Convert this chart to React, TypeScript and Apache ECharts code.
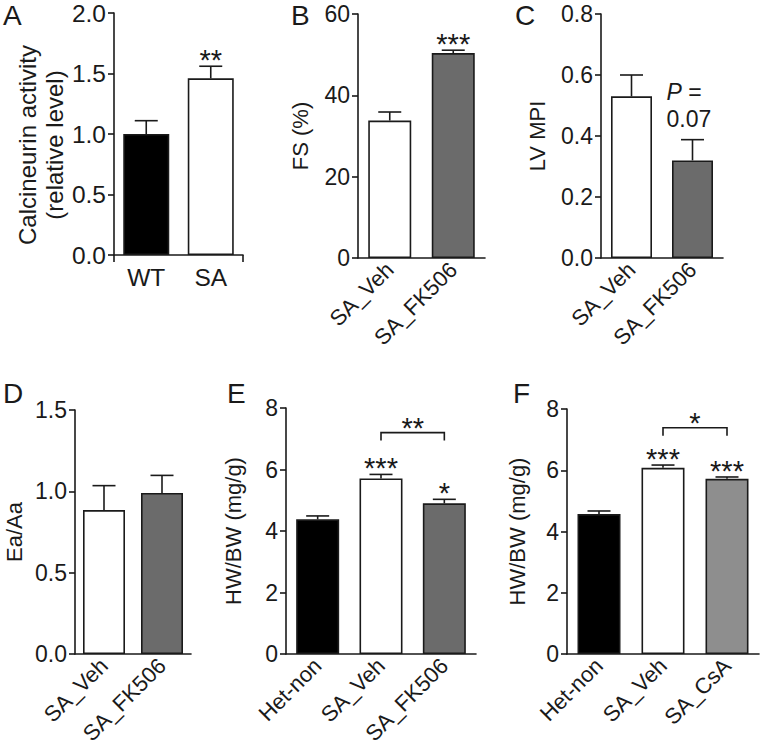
import React, { useEffect, useRef } from "react";
import * as echarts from "echarts";

const FONT = '"Liberation Sans", Arial, Helvetica, sans-serif';
const INK = "#1a1a1a";
const BLACK = "#000000";
const WHITE = "#ffffff";
const DARK = "#6b6b6b";
const GRAY = "#8e8e8e";

// Panel A
const catsA = ["WT", "SA"];
const meanA = [1.0, 1.46];
const semA = [0.11, 0.1];
const colorsA = [BLACK, WHITE];
const starsA = ["", "**"];
const ticksA = { min: 0, max: 2, interval: 0.5 };

// Panel B
const catsB = ["SA_Veh", "SA_FK506"];
const meanB = [33.8, 50.4];
const semB = [2.1, 0.7];
const colorsB = [WHITE, DARK];
const starsB = ["", "***"];
const ticksB = { min: 0, max: 60, interval: 20 };

// Panel C
const catsC = ["SA_Veh", "SA_FK506"];
const meanC = [0.53, 0.32];
const semC = [0.07, 0.068];
const colorsC = [WHITE, DARK];
const ticksC = { min: 0, max: 0.8, interval: 0.2 };
const pNoteC = "0.07";

// Panel D
const catsD = ["SA_Veh", "SA_FK506"];
const meanD = [0.885, 0.99];
const semD = [0.15, 0.108];
const colorsD = [WHITE, DARK];
const starsD = ["", ""];
const ticksD = { min: 0, max: 1.5, interval: 0.5 };

// Panel E
const catsE = ["Het-non", "SA_Veh", "SA_FK506"];
const meanE = [4.38, 5.71, 4.9];
const semE = [0.11, 0.13, 0.13];
const colorsE = [BLACK, WHITE, DARK];
const starsE = ["", "***", "*"];
const bracketE = { from: 1, to: 2, y: 7.2, label: "**" };
const ticksE = { min: 0, max: 8, interval: 2 };

// Panel F
const catsF = ["Het-non", "SA_Veh", "SA_CsA"];
const meanF = [4.57, 6.08, 5.72];
const semF = [0.1, 0.09, 0.06];
const colorsF = [BLACK, WHITE, GRAY];
const starsF = ["", "***", "***"];
const bracketF = { from: 1, to: 2, y: 7.39, label: "*" };
const ticksF = { min: 0, max: 8, interval: 2 };

type Panel = {
  letter: string;
  letterPos: [number, number];
  grid: { left: number; top: number; width: number; height: number };
  cats: string[];
  mean: number[];
  sem: number[];
  colors: string[];
  stars?: string[];
  bracket?: { from: number; to: number; y: number; label: string };
  ticks: { min: number; max: number; interval: number };
  decimals: number;
  yName: string;
  nameGap: number;
  nameSize: number;
  namePad?: number[];
  fontSize: number;
  barWidth: number;
  rotate: number;
  midTick?: boolean;
  pNote?: string;
};

const panels: Panel[] = [
  {
    letter: "A", letterPos: [3, 1],
    grid: { left: 114, top: 13, width: 129, height: 242 },
    cats: catsA, mean: meanA, sem: semA, colors: colorsA, stars: starsA,
    ticks: ticksA, decimals: 1, yName: "Calcineurin activity\n(relative level)", nameGap: 46,
    nameSize: 24, namePad: [0, 22, 0, 0], fontSize: 24.5,
    barWidth: 46, rotate: 0, midTick: true,
  },
  {
    letter: "B", letterPos: [291, 1],
    grid: { left: 358, top: 14, width: 127, height: 244 },
    cats: catsB, mean: meanB, sem: semB, colors: colorsB, stars: starsB,
    ticks: ticksB, decimals: 0, yName: "FS (%)", nameGap: 44, nameSize: 22, fontSize: 23,
    barWidth: 43, rotate: 45,
  },
  {
    letter: "C", letterPos: [515, 1],
    grid: { left: 601, top: 14, width: 122, height: 244 },
    cats: catsC, mean: meanC, sem: semC, colors: colorsC,
    ticks: ticksC, decimals: 1, yName: "LV MPI", nameGap: 50, nameSize: 22, fontSize: 23,
    barWidth: 41, rotate: 45, pNote: pNoteC,
  },
  {
    letter: "D", letterPos: [3, 379],
    grid: { left: 69, top: 410, width: 122, height: 244 },
    cats: catsD, mean: meanD, sem: semD, colors: colorsD, stars: starsD,
    ticks: ticksD, decimals: 1, yName: "Ea/Aa", nameGap: 47, nameSize: 22, fontSize: 23,
    barWidth: 42, rotate: 45,
  },
  {
    letter: "E", letterPos: [227, 379],
    grid: { left: 286, top: 408, width: 190, height: 246 },
    cats: catsE, mean: meanE, sem: semE, colors: colorsE, stars: starsE, bracket: bracketE,
    ticks: ticksE, decimals: 0, yName: "HW/BW (mg/g)", nameGap: 39, nameSize: 22, fontSize: 23,
    barWidth: 43, rotate: 45,
  },
  {
    letter: "F", letterPos: [513, 379],
    grid: { left: 567, top: 409, width: 192, height: 245 },
    cats: catsF, mean: meanF, sem: semF, colors: colorsF, stars: starsF, bracket: bracketF,
    ticks: ticksF, decimals: 0, yName: "HW/BW (mg/g)", nameGap: 36, nameSize: 22, fontSize: 23,
    barWidth: 43, rotate: 45,
  },
];

const STAR_FONT = `29px ${FONT}`;

function buildOption() {
  const grid: any[] = [];
  const xAxis: any[] = [];
  const yAxis: any[] = [];
  const series: any[] = [];
  const graphic: any[] = [];

  panels.forEach((p, i) => {
    grid.push({ ...p.grid, containLabel: false });
    xAxis.push({
      type: "category",
      gridIndex: i,
      data: p.cats,
      boundaryGap: true,
      axisLine: { lineStyle: { color: INK, width: 1.6 } },
      axisTick: p.midTick
        ? { show: true, length: 7, lineStyle: { color: INK, width: 1.6 }, interval: (idx: number) => idx === 1 }
        : { show: false },
      axisLabel: {
        interval: 0,
        rotate: p.rotate,
        color: INK,
        fontFamily: FONT,
        fontSize: p.rotate ? 22 : p.fontSize,
        margin: p.rotate ? 8 : 10,
      },
    });
    yAxis.push({
      type: "value",
      gridIndex: i,
      min: p.ticks.min,
      max: p.ticks.max,
      interval: p.ticks.interval,
      splitLine: { show: false },
      axisLine: { show: true, lineStyle: { color: INK, width: 1.6 } },
      axisTick: { show: true, length: 6, lineStyle: { color: INK, width: 1.6 } },
      axisLabel: {
        color: INK,
        fontFamily: FONT,
        fontSize: p.fontSize,
        margin: 8,
        formatter: (v: number) => v.toFixed(p.decimals),
      },
      name: p.yName,
      nameLocation: "middle",
      nameRotate: 90,
      nameGap: p.nameGap,
      nameTextStyle: {
        color: INK,
        fontFamily: FONT,
        fontSize: p.nameSize,
        lineHeight: 27,
        padding: p.namePad || 0,
      },
    });

    series.push({
      type: "bar",
      xAxisIndex: i,
      yAxisIndex: i,
      barWidth: p.barWidth,
      z: 2,
      data: p.mean.map((m, k) => ({
        value: m,
        itemStyle: { color: p.colors[k], borderColor: INK, borderWidth: 1.6 },
      })),
    });

    // error bars (upper half)
    series.push({
      type: "custom",
      xAxisIndex: i,
      yAxisIndex: i,
      z: 3,
      data: p.mean.map((m, k) => [k, m, m + p.sem[k]]),
      renderItem: (params: any, api: any) => {
        const a = api.coord([api.value(0), api.value(1)]);
        const b = api.coord([api.value(0), api.value(2)]);
        const half = 11.5;
        const st = { stroke: INK, lineWidth: 1.6 };
        return {
          type: "group",
          children: [
            { type: "line", shape: { x1: a[0], y1: a[1], x2: b[0], y2: b[1] }, style: st },
            { type: "line", shape: { x1: b[0] - half, y1: b[1], x2: b[0] + half, y2: b[1] }, style: st },
          ],
        };
      },
    });

    // significance stars above error bars
    if (p.stars) {
      const stars = p.stars;
      series.push({
        type: "custom",
        xAxisIndex: i,
        yAxisIndex: i,
        z: 4,
        data: p.mean.map((m, k) => [k, m + p.sem[k]]),
        renderItem: (params: any, api: any) => {
          const txt = stars[params.dataIndex];
          if (!txt) return null;
          const b = api.coord([api.value(0), api.value(1)]);
          return {
            type: "text",
            x: b[0],
            y: b[1] - 6,
            style: {
              text: txt,
              fill: INK,
              font: STAR_FONT,
              align: "center",
              verticalAlign: "middle",
            },
          };
        },
      });
    }

    // P-value note
    if (p.pNote) {
      const note = p.pNote;
      series.push({
        type: "custom",
        xAxisIndex: i,
        yAxisIndex: i,
        z: 4,
        data: [[1, p.mean[1] + p.sem[1]]],
        renderItem: (params: any, api: any) => {
          const b = api.coord([api.value(0), api.value(1)]);
          return {
            type: "text",
            x: b[0] - 26,
            y: b[1] - 7,
            style: {
              text: "{i|P} =\n" + note,
              fill: INK,
              font: `23px ${FONT}`,
              align: "left",
              verticalAlign: "bottom",
              lineHeight: 27,
              rich: {
                i: { fontStyle: "italic", fontFamily: FONT, fontSize: 23, fill: INK, lineHeight: 27 },
              },
            },
          };
        },
      });
    }

    // comparison bracket
    if (p.bracket) {
      const br = p.bracket;
      series.push({
        type: "custom",
        xAxisIndex: i,
        yAxisIndex: i,
        z: 4,
        data: [[br.from, br.to, br.y]],
        renderItem: (params: any, api: any) => {
          const l = api.coord([api.value(0), api.value(2)]);
          const r = api.coord([api.value(1), api.value(2)]);
          const st = { stroke: INK, lineWidth: 1.6, fill: null };
          return {
            type: "group",
            children: [
              {
                type: "polyline",
                shape: { points: [[l[0], l[1] + 8], [l[0], l[1]], [r[0], r[1]], [r[0], r[1] + 8]] },
                style: st,
              },
              {
                type: "text",
                x: (l[0] + r[0]) / 2,
                y: l[1] - 5,
                style: {
                  text: br.label,
                  fill: INK,
                  font: STAR_FONT,
                  align: "center",
                  verticalAlign: "middle",
                },
              },
            ],
          };
        },
      });
    }

    graphic.push({
      type: "text",
      left: p.letterPos[0],
      top: p.letterPos[1],
      style: { text: p.letter, fill: INK, font: `28px ${FONT}` },
    });
  });

  return {
    animation: false,
    backgroundColor: "#ffffff",
    grid,
    xAxis,
    yAxis,
    series,
    graphic,
  };
}

export default function App() {
  const ref = useRef<HTMLDivElement>(null);
  useEffect(() => {
    if (!ref.current) return;
    const chart = echarts.init(ref.current, undefined, { renderer: "svg" });
    chart.setOption(buildOption() as any);
    return () => chart.dispose();
  }, []);
  return (
    <div
      ref={ref}
      style={{ position: "fixed", left: 0, top: 0, width: 762, height: 749, background: "#fff" }}
    />
  );
}
